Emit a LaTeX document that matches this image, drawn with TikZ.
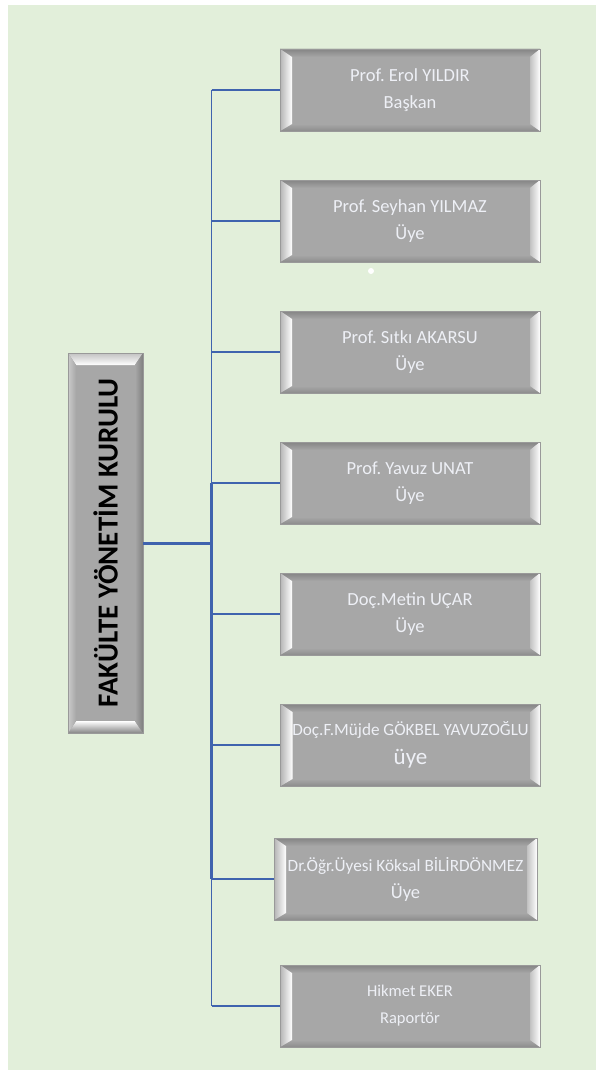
\documentclass[tikz,border=0pt]{standalone}
\usepackage{fontspec}
\setmainfont{Carlito}
\usetikzlibrary{calc}
\frenchspacing
\definecolor{bg}{HTML}{E2EFDA}
\definecolor{boxgray}{HTML}{A7A7A7}
\definecolor{linkblue}{HTML}{3F63AE}
\definecolor{txtlight}{HTML}{EEF0F6}
\tikzset{
  member/.style={draw=black!40, line width=0.6pt, fill=boxgray, inner sep=0pt, align=center,
    text=txtlight, minimum width=260pt, minimum height=82pt,
    font=\fontsize{18.5}{27}\selectfont,
    path picture={
      \coordinate (pNW) at (path picture bounding box.north west);
      \coordinate (pNE) at (path picture bounding box.north east);
      \coordinate (pSW) at (path picture bounding box.south west);
      \coordinate (pSE) at (path picture bounding box.south east);
      \coordinate (iNW) at ([xshift=12pt,yshift=-8pt]pNW);
      \coordinate (iNE) at ([xshift=-10pt,yshift=-8pt]pNE);
      \coordinate (iSW) at ([xshift=12pt,yshift=7pt]pSW);
      \coordinate (iSE) at ([xshift=-10pt,yshift=7pt]pSE);
      \fill[top color=black!48, bottom color=boxgray] (pNW) -- (pNE) -- (iNE) -- (iNW) -- cycle;
      \fill[top color=boxgray, bottom color=black!45] (pSW) -- (pSE) -- (iSE) -- (iSW) -- cycle;
      \fill[left color=boxgray!85!white, right color=white] (pNW) -- (iNW) -- (iSW) -- (pSW) -- cycle;
      \fill[left color=boxgray!70!white, right color=white] (pNE) -- (iNE) -- (iSE) -- (pSE) -- cycle;
    }},
  headbox/.style={draw=black!40, line width=0.6pt, fill=boxgray, inner sep=0pt,
    minimum width=75pt, minimum height=380pt,
    font=\fontsize{29}{32}\selectfont\bfseries, text=black,
    path picture={
      \coordinate (pNW) at (path picture bounding box.north west);
      \coordinate (pNE) at (path picture bounding box.north east);
      \coordinate (pSW) at (path picture bounding box.south west);
      \coordinate (pSE) at (path picture bounding box.south east);
      \coordinate (iNW) at ([xshift=8pt,yshift=-12pt]pNW);
      \coordinate (iNE) at ([xshift=-8pt,yshift=-12pt]pNE);
      \coordinate (iSW) at ([xshift=8pt,yshift=12pt]pSW);
      \coordinate (iSE) at ([xshift=-8pt,yshift=12pt]pSE);
      \fill[top color=boxgray!70!white, bottom color=white] (pNW) -- (pNE) -- (iNE) -- (iNW) -- cycle;
      \fill[top color=white, bottom color=boxgray!80!black] (pSW) -- (pSE) -- (iSE) -- (iSW) -- cycle;
      \fill[left color=boxgray!60!white, right color=boxgray] (pNW) -- (iNW) -- (iSW) -- (pSW) -- cycle;
      \fill[left color=boxgray, right color=black!50] (pNE) -- (iNE) -- (iSE) -- (pSE) -- cycle;
    }},
  conn/.style={draw=linkblue, line width=1.4pt},
  thickconn/.style={draw=linkblue, line width=3pt},
}
\begin{document}
\begin{tikzpicture}[x=1pt,y=-1pt]
\useasboundingbox (0,0) rectangle (595,1070);
\fill[white] (0,0) rectangle (595,1070);
\fill[bg] (8,5) rectangle (596,1071);

\node[headbox] (head) at (105.5,543) {\rotatebox{90}{FAKÜLTE YÖNETİM KURULU}};

\node[member] (m1) at (410,90) {Prof. Erol YILDIR\\Başkan};
\node[member] (m2) at (410,221) {Prof. Seyhan YILMAZ\\Üye};
\node[member] (m3) at (410,352) {Prof. Sıtkı AKARSU\\Üye};
\node[member] (m4) at (410,483) {Prof. Yavuz UNAT\\Üye};
\node[member] (m5) at (410,614) {Doç.Metin UÇAR\\Üye};
\node[member] (m6) at (410.5,745) {{\fontsize{17.2}{27}\selectfont Doç.F.Müjde GÖKBEL YAVUZOĞLU}\\[2pt]{\fontsize{23}{27}\selectfont üye}};
\node[member, minimum width=263pt] (m7) at (405.5,879) {{\fontsize{17.2}{27}\selectfont Dr.Öğr.Üyesi Köksal BİLİRDÖNMEZ}\\Üye};
\node[member, font=\fontsize{16.5}{27}\selectfont] (m8) at (410,1006) {Hikmet EKER\\Raportör};

\coordinate (spine) at (211.5,0);
\draw[conn] (spine |- m1.west) -- (spine |- m8.west);
\foreach \m in {m1,m2,m3,m4,m5,m6,m7,m8} {
  \draw[conn] (spine |- \m.west) -- (\m.west);
}
\draw[thickconn] (spine |- m4.west) -- (spine |- m7.west);
\draw[thickconn] (head.east) -- (head.east -| spine);

\fill[white] (371,271) circle (3pt);
\end{tikzpicture}
\end{document}
